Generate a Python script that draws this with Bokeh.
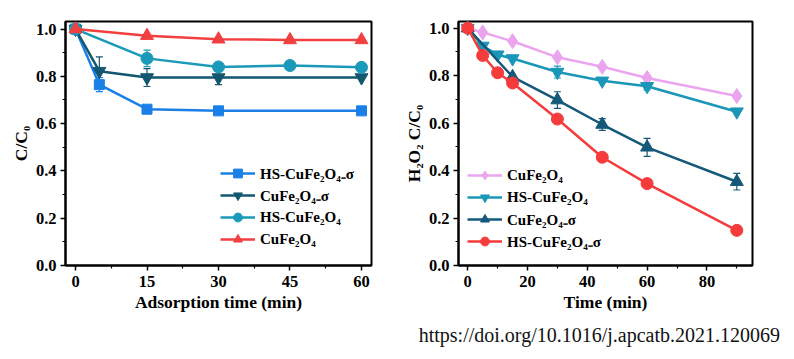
from bokeh.plotting import figure
from bokeh.models import (ColumnDataSource, Whisker, TeeHead, Legend, LegendItem,
                          FixedTicker, PrintfTickFormatter, Range1d, Div)
from bokeh.layouts import row, column
from bokeh.embed import file_html
from bokeh.resources import INLINE

# ---------------- data: left panel (adsorption) ----------------
ads_labels = ["HS-CuFe₂O₄₋σ", "CuFe₂O₄₋σ", "HS-CuFe₂O₄", "CuFe₂O₄"]
ads_x = [
    [0, 5, 15, 30, 60],
    [0, 5, 15, 30, 60],
    [0, 15, 30, 45, 60],
    [0, 15, 30, 45, 60],
]
ads_y = [
    [1.0, 0.765, 0.661, 0.654, 0.654],
    [1.0, 0.822, 0.795, 0.795, 0.795],
    [1.0, 0.876, 0.840, 0.846, 0.838],
    [1.0, 0.972, 0.957, 0.954, 0.954],
]
ads_err = [
    [0.0, 0.030, 0.0, 0.0, 0.0],
    [0.0, 0.060, 0.038, 0.030, 0.0],
    [0.0, 0.035, 0.0, 0.0, 0.0],
    [0.012, 0.0, 0.0, 0.0, 0.0],
]
ads_colors = ["#1a7fe6", "#13566f", "#1a9ab8", "#f23f3f"]
ads_markers = ["square", "inverted_triangle", "circle", "triangle"]
ads_sizes = [10, 13, 12, 13]
ads_xticks = [0, 15, 30, 45, 60]
ads_xminor = [7.5, 22.5, 37.5, 52.5]

# ---------------- data: right panel (H2O2 decomposition) ----------------
h2o2_labels = ["CuFe₂O₄", "HS-CuFe₂O₄", "CuFe₂O₄₋σ", "HS-CuFe₂O₄₋σ"]
h2o2_x = [
    [0, 5, 15, 30, 45, 60, 90],
    [0, 5, 10, 15, 30, 45, 60, 90],
    [0, 15, 30, 45, 60, 90],
    [0, 5, 10, 15, 30, 45, 60, 90],
]
h2o2_y = [
    [1.0, 0.982, 0.945, 0.877, 0.837, 0.790, 0.714],
    [1.0, 0.925, 0.888, 0.872, 0.815, 0.778, 0.755, 0.648],
    [1.0, 0.795, 0.697, 0.594, 0.498, 0.353],
    [1.0, 0.885, 0.812, 0.769, 0.617, 0.456, 0.345, 0.148],
]
h2o2_err = [
    [0.0, 0.0, 0.0, 0.0, 0.0, 0.010, 0.0],
    [0.012, 0.0, 0.0, 0.0, 0.025, 0.0, 0.015, 0.0],
    [0.0, 0.0, 0.035, 0.025, 0.038, 0.035],
    [0.0, 0.0, 0.0, 0.0, 0.0, 0.0, 0.0, 0.0],
]
h2o2_colors = ["#eba4ee", "#1a96b8", "#14587a", "#f53b3b"]
h2o2_markers = ["diamond", "inverted_triangle", "triangle", "circle"]
h2o2_sizes = [15, 13, 13, 12]
h2o2_xticks = [0, 20, 40, 60, 80]
h2o2_xminor = [10, 30, 50, 70, 90]

yticks = [0.0, 0.2, 0.4, 0.6, 0.8, 1.0]
yminor = [0.1, 0.3, 0.5, 0.7, 0.9]

doi_text = "https://doi.org/10.1016/j.apcatb.2021.120069"

SERIF = "Liberation Serif"


def style_axes(p, xticks, xminor, xlabel, ylabel):
    p.xgrid.visible = False
    p.ygrid.visible = False
    p.outline_line_color = "black"
    p.outline_line_width = 2
    p.xaxis.ticker = FixedTicker(ticks=xticks, minor_ticks=xminor)
    p.yaxis.ticker = FixedTicker(ticks=yticks, minor_ticks=yminor)
    p.yaxis.formatter = PrintfTickFormatter(format="%.1f")
    for ax in (p.xaxis[0], p.yaxis[0]):
        ax.axis_line_width = 2
        ax.axis_line_color = "black"
        ax.major_tick_in = 0
        ax.major_tick_out = 5
        ax.minor_tick_in = 0
        ax.minor_tick_out = 3
        ax.major_tick_line_width = 1.5
        ax.minor_tick_line_width = 1.2
        ax.major_label_text_font = SERIF
        ax.major_label_text_font_style = "bold"
        ax.major_label_text_font_size = "16.5px"
        ax.major_label_text_color = "black"
        ax.axis_label_text_font = SERIF
        ax.axis_label_text_font_style = "bold"
        ax.axis_label_text_font_size = "17.5px"
        ax.axis_label_text_color = "black"
    p.xaxis.axis_label = xlabel
    p.yaxis.axis_label = ylabel
    p.xaxis.major_label_standoff = 5
    p.xaxis.axis_label_standoff = 2
    p.yaxis.major_label_standoff = 4
    p.yaxis.axis_label_standoff = 2


def add_series(p, xs, ys, errs, color, marker, size):
    src = ColumnDataSource(dict(x=xs, y=ys))
    lr = p.line("x", "y", source=src, line_color=color, line_width=2.5)
    ex = [x for x, e in zip(xs, errs) if e > 0]
    ey = [y for y, e in zip(ys, errs) if e > 0]
    ee = [e for e in errs if e > 0]
    if ex:
        esrc = ColumnDataSource(dict(x=ex, up=[y + e for y, e in zip(ey, ee)],
                                     lo=[y - e for y, e in zip(ey, ee)]))
        w = Whisker(source=esrc, base="x", upper="up", lower="lo", dimension="height",
                    line_color=color, line_width=1.2,
                    upper_head=TeeHead(size=7, line_color=color, line_width=1.2),
                    lower_head=TeeHead(size=7, line_color=color, line_width=1.2))
        p.add_layout(w)
    sr = p.scatter("x", "y", source=src, marker=marker, size=size,
                   fill_color=color, line_color=color)
    return lr, sr


def make_legend(items, x, y):
    lg = Legend(items=items, location=(x, y), margin=0, padding=0, spacing=0,
                glyph_width=35, glyph_height=22, label_height=22, label_standoff=5,
                background_fill_alpha=0, border_line_alpha=0,
                label_text_font=SERIF, label_text_font_style="bold",
                label_text_font_size="15px", label_text_color="black")
    return lg


# ---------------- left figure ----------------
p1 = figure(width=400, height=326, output_backend="svg", toolbar_location=None,
            x_range=Range1d(-2.1, 62.1), y_range=Range1d(0, 1.032),
            min_border_left=65, min_border_right=29, min_border_top=17,
            min_border_bottom=61)
style_axes(p1, ads_xticks, ads_xminor, "Adsorption time (min)", "C/C₀")
items1 = []
for lab, xs, ys, es, c, m, s in zip(ads_labels, ads_x, ads_y, ads_err, ads_colors,
                                    ads_markers, ads_sizes):
    lr, sr = add_series(p1, xs, ys, es, c, m, s)
    items1.append(LegendItem(label=lab, renderers=[lr, sr]))
p1.add_layout(make_legend(items1, 155, 15))

# ---------------- right figure ----------------
p2 = figure(width=390, height=326, output_backend="svg", toolbar_location=None,
            x_range=Range1d(-3.08, 95.25), y_range=Range1d(0, 1.028),
            min_border_left=55, min_border_right=38, min_border_top=21,
            min_border_bottom=61)
style_axes(p2, h2o2_xticks, h2o2_xminor, "Time (min)", "H₂O₂ C/C₀")
items2 = []
for lab, xs, ys, es, c, m, s in zip(h2o2_labels, h2o2_x, h2o2_y, h2o2_err, h2o2_colors,
                                    h2o2_markers, h2o2_sizes):
    lr, sr = add_series(p2, xs, ys, es, c, m, s)
    items2.append(LegendItem(label=lab, renderers=[lr, sr]))
p2.add_layout(make_legend(items2, 9, 13))

doi = Div(text=('<div style="font-family: \'Liberation Serif\'; font-size: 20px; '
                'line-height: 19px; text-align: right; width: 780px; color: #111;">'
                + doi_text + '</div>'),
          width=780, height=22, margin=(0, 0, 0, 0))

layout = column(row(p1, p2), doi)
open("out.html", "w").write(file_html(layout, INLINE))
